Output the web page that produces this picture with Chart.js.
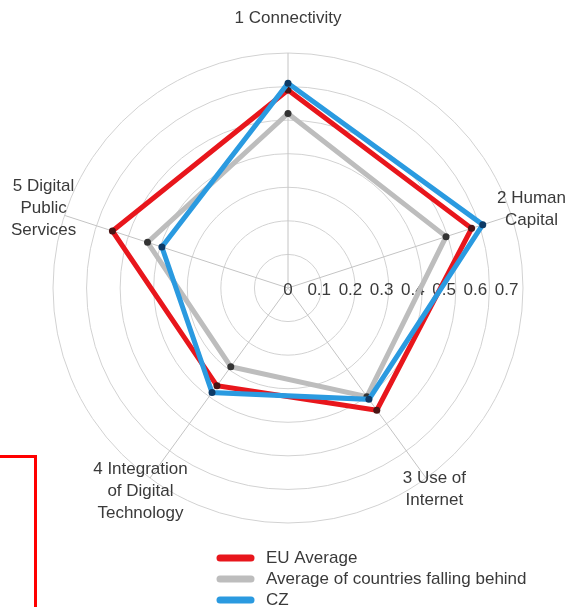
<!DOCTYPE html>
<html>
<head>
<meta charset="utf-8">
<script src="https://cdn.jsdelivr.net/npm/chart.js@4"></script>
<style>
    html, body { margin: 0; padding: 0; background: #fff; }
    #wrap { position: relative; width: 565px; height: 607px; overflow: hidden; }
    #redBox {
        position: absolute; left: -4px; top: 455px; width: 38px; height: 170px;
        border-top: 3px solid #f00; border-right: 3px solid #f00;
    }
</style>
</head>
<body>
<div id="wrap">
    <canvas id="radarChart" width="565" height="607"></canvas>
    <div id="redBox"></div>
</div>
<script>
const categories = [
    ['1 Connectivity'],
    ['2 Human', 'Capital'],
    ['3 Use of', 'Internet'],
    ['4 Integration', 'of Digital', 'Technology'],
    ['5 Digital', 'Public', 'Services']
];
const seriesNames = ['EU Average', 'Average of countries falling behind', 'CZ'];
const euAverage = [0.59, 0.575, 0.45, 0.36, 0.55];
const fallingBehind = [0.52, 0.495, 0.40, 0.29, 0.44];
const czValues = [0.61, 0.61, 0.41, 0.385, 0.395];
const tickValues = [0, 0.1, 0.2, 0.3, 0.4, 0.5, 0.6, 0.7];

const lineColors = ['#e8161c', '#bdbdbd', '#2a9ae0'];
const dotColors = ['#4a1414', '#333333', '#0d3a66'];
const labelGap = [35, 21, 14, 16, 22];
const textColor = '#3a3a3a';
const fontFamily = '"Liberation Sans", Arial, sans-serif';
const fontSize = 17;

// tick labels run along the horizontal line to the right, like the original
const tickLabelsPlugin = {
    id: 'tickLabels',
    beforeDatasetsDraw(chart) {
        const scale = chart.scales.r;
        const ctx = chart.ctx;
        ctx.save();
        ctx.font = fontSize + 'px ' + fontFamily;
        ctx.fillStyle = textColor;
        ctx.textAlign = 'center';
        ctx.textBaseline = 'middle';
        tickValues.forEach(v => {
            const d = scale.getDistanceFromCenterForValue(v) * 0.93;
            ctx.fillText(String(v), scale.xCenter + d, scale.yCenter + 2);
        });
        ctx.restore();
    }
};

const pointLabelsPlugin = {
    id: 'pointLabelsCustom',
    afterDraw(chart) {
        const scale = chart.scales.r;
        const ctx = chart.ctx;
        ctx.save();
        ctx.font = fontSize + 'px ' + fontFamily;
        ctx.fillStyle = textColor;
        ctx.textAlign = 'center';
        ctx.textBaseline = 'middle';
        categories.forEach((lines, i) => {
            const pos = scale.getPointPosition(i, scale.drawingArea + labelGap[i]);
            const lh = 22;
            const top = pos.y - (lines.length - 1) * lh / 2;
            lines.forEach((t, j) => ctx.fillText(t, pos.x, top + j * lh));
        });
        ctx.restore();
    }
};

const legendPlugin = {
    id: 'bottomLegend',
    afterDraw(chart) {
        const ctx = chart.ctx;
        ctx.save();
        ctx.font = fontSize + 'px ' + fontFamily;
        ctx.textBaseline = 'middle';
        seriesNames.forEach((name, i) => {
            const y = 558 + i * 21;
            ctx.strokeStyle = lineColors[i];
            ctx.lineWidth = 7;
            ctx.lineCap = 'round';
            ctx.beginPath();
            ctx.moveTo(220, y);
            ctx.lineTo(251, y);
            ctx.stroke();
            ctx.fillStyle = textColor;
            ctx.fillText(name, 266, y);
        });
        ctx.restore();
    }
};

const seriesData = [euAverage, fallingBehind, czValues];
const stackOrder = [2, 1, 0];

new Chart(document.getElementById('radarChart'), {
    type: 'radar',
    data: {
        labels: categories.map(c => c.join(' ')),
        datasets: seriesData.map((vals, i) => ({
            label: seriesNames[i],
            data: vals,
            order: stackOrder[i],
            borderColor: lineColors[i],
            borderWidth: 5,
            backgroundColor: 'transparent',
            fill: false,
            pointRadius: 3.5,
            pointBorderWidth: 0,
            pointBackgroundColor: dotColors[i],
            borderJoinStyle: 'miter'
        }))
    },
    options: {
        responsive: false,
        animation: false,
        layout: { padding: { left: 53, right: 42, top: 53, bottom: 84 } },
        plugins: {
            legend: { display: false },
            tooltip: { enabled: false }
        },
        scales: {
            r: {
                min: 0,
                max: 0.7,
                ticks: { display: false, stepSize: 0.1 },
                pointLabels: { display: false },
                grid: { circular: true, color: '#d2d2d2', lineWidth: 1 },
                angleLines: { color: '#c4c4c4', lineWidth: 1 }
            }
        }
    },
    plugins: [tickLabelsPlugin, pointLabelsPlugin, legendPlugin]
});
</script>
</body>
</html>
